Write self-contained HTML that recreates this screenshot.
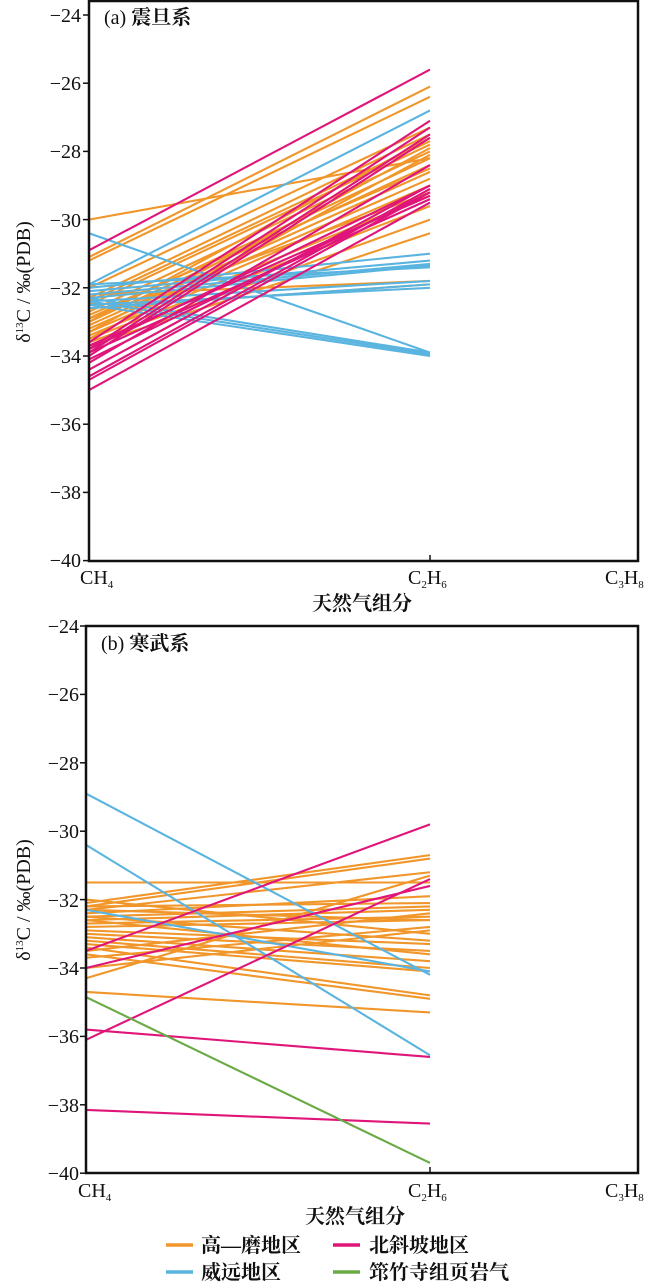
<!DOCTYPE html>
<html><head><meta charset="utf-8"><style>
html,body{margin:0;padding:0;background:#fff;}
svg{display:block;}
text{font-family:"Liberation Serif","Noto Serif CJK SC",serif;fill:#111;}
.cj{font-family:"Liberation Serif","Noto Serif CJK SC",serif;font-weight:bold;}
</style></head><body>
<svg id="s" width="650" height="1283" viewBox="0 0 650 1283" xmlns="http://www.w3.org/2000/svg">
<g id="la"></g><g id="lb"></g>
<rect x="89" y="1" width="549" height="560" fill="none" stroke="#111" stroke-width="2.5"/>
<rect x="86" y="626" width="552" height="547" fill="none" stroke="#111" stroke-width="2.5"/>
<g id="ticks"></g>
<g font-size="20" text-anchor="end">
<text x="81" y="22">−24</text><text x="81" y="90">−26</text><text x="81" y="158">−28</text><text x="81" y="227">−30</text><text x="81" y="295">−32</text><text x="81" y="363">−34</text><text x="81" y="431">−36</text><text x="81" y="499">−38</text><text x="81" y="567">−40</text>
<text x="79" y="633">−24</text><text x="79" y="701">−26</text><text x="79" y="770">−28</text><text x="79" y="838">−30</text><text x="79" y="907">−32</text><text x="79" y="975">−34</text><text x="79" y="1043">−36</text><text x="79" y="1112">−38</text><text x="79" y="1180">−40</text>
</g>
<g font-size="20">
<text x="80" y="584">CH<tspan font-size="11" dy="4">4</tspan></text>
<text x="408" y="584">C<tspan font-size="11" dy="4">2</tspan><tspan dy="-4">H</tspan><tspan font-size="11" dy="4">6</tspan></text>
<text x="605" y="584">C<tspan font-size="11" dy="4">3</tspan><tspan dy="-4">H</tspan><tspan font-size="11" dy="4">8</tspan></text>
<text x="78" y="1197">CH<tspan font-size="11" dy="4">4</tspan></text>
<text x="408" y="1197">C<tspan font-size="11" dy="4">2</tspan><tspan dy="-4">H</tspan><tspan font-size="11" dy="4">6</tspan></text>
<text x="605" y="1197">C<tspan font-size="11" dy="4">3</tspan><tspan dy="-4">H</tspan><tspan font-size="11" dy="4">8</tspan></text>
</g>
<text x="104" y="24" font-size="20">(a) <tspan class="cj">震旦系</tspan></text>
<text x="101" y="650" font-size="20">(b) <tspan class="cj">寒武系</tspan></text>
<text class="cj" x="362" y="610" font-size="20" text-anchor="middle">天然气组分</text>
<text class="cj" x="355" y="1223" font-size="20" text-anchor="middle">天然气组分</text>
<text x="0" y="0" font-size="20" text-anchor="middle" transform="translate(30,282) rotate(-90)">δ<tspan font-size="11" dy="-7">13</tspan><tspan dy="7">C / ‰(PDB)</tspan></text>
<text x="0" y="0" font-size="20" text-anchor="middle" transform="translate(30,900) rotate(-90)">δ<tspan font-size="11" dy="-7">13</tspan><tspan dy="7">C / ‰(PDB)</tspan></text>
<line x1="166" y1="1245" x2="193" y2="1245" stroke="#f0962a" stroke-width="3.5"/>
<line x1="333" y1="1245" x2="360" y2="1245" stroke="#e0157a" stroke-width="3.5"/>
<line x1="166" y1="1272" x2="193" y2="1272" stroke="#5ab4e0" stroke-width="3.5"/>
<line x1="333" y1="1272" x2="360" y2="1272" stroke="#6aaa45" stroke-width="3.5"/>
<g font-size="20">
<text x="201" y="1252" class="cj">高—磨地区</text>
<text x="369" y="1252" class="cj">北斜坡地区</text>
<text x="201" y="1279" class="cj">威远地区</text>
<text x="369" y="1279" class="cj">筇竹寺组页岩气</text>
</g>
</svg>
<script>
var NS="http://www.w3.org/2000/svg";
var O="#f0962a",P="#e0157a",B="#5ab4e0",G="#6aaa45";
function ya(v){return 15+(-24-v)*34.1;}
function yb(v){return 626+(-24-v)*34.2;}
function add(g,x1,y1,x2,y2,c,w){var l=document.createElementNS(NS,"line");l.setAttribute("x1",x1);l.setAttribute("y1",y1);l.setAttribute("x2",x2);l.setAttribute("y2",y2);l.setAttribute("stroke",c);l.setAttribute("stroke-width",w||"2.1");g.appendChild(l);}
var A=[
[O,-30.0,-28.2],[O,-31.1,-26.1],[O,-31.2,-26.4],[O,-32.0,-27.3],[O,-32.3,-27.5],[O,-32.5,-27.8],[O,-32.7,-28.0],[O,-32.9,-28.2],[O,-33.0,-28.4],[O,-33.1,-28.6],[O,-33.2,-28.8],[O,-33.3,-29.0],[O,-33.4,-29.3],[O,-33.5,-29.6],[O,-33.6,-30.0],[O,-33.7,-30.4],[O,-32.2,-31.8],[O,-32.6,-31.9],[O,-33.0,-27.6],[O,-32.8,-28.5],[O,-33.3,-27.9],[O,-33.5,-28.1],[O,-32.4,-27.7],[O,-32.9,-29.2],
[B,-30.4,-33.9],[B,-31.9,-26.8],[B,-32.0,-31.0],[B,-32.1,-31.2],[B,-32.2,-31.3],[B,-32.3,-31.35],[B,-32.4,-31.8],[B,-32.5,-32.0],[B,-32.6,-31.9],[B,-32.3,-33.9],[B,-32.4,-33.95],[B,-32.5,-34.0],[B,-31.9,-31.4],
[P,-30.9,-25.6],[P,-33.6,-27.1],[P,-33.8,-27.3],[P,-33.9,-27.5],[P,-34.0,-27.6],[P,-34.2,-28.4],[P,-34.4,-29.0],[P,-34.6,-29.1],[P,-34.7,-29.2],[P,-35.0,-29.5],[P,-33.7,-29.3],[P,-33.9,-29.4],[P,-34.1,-29.2],[P,-33.8,-29.0]
];
var Bd=[
[O,-31.5,-31.5],[O,-32.1,-30.7],[O,-32.2,-30.8],[O,-32.3,-31.2],[O,-32.4,-31.9],[O,-32.5,-32.2],[O,-32.6,-32.3],[O,-32.7,-32.5],[O,-32.8,-32.6],[O,-32.9,-33.3],[O,-33.0,-33.5],[O,-33.1,-33.8],[O,-33.2,-34.0],[O,-33.3,-34.1],[O,-33.5,-32.4],[O,-33.7,-32.8],[O,-34.0,-32.9],[O,-34.3,-31.3],[O,-34.7,-35.3],[O,-33.4,-34.8],[O,-33.6,-34.9],[O,-32.0,-33.0],[O,-32.2,-32.1],[O,-32.5,-33.2],[O,-32.3,-32.6],[O,-32.6,-33.6],
[B,-28.9,-34.2],[B,-30.4,-36.55],[B,-32.3,-34.1],
[P,-33.5,-29.8],[P,-34.0,-31.6],[P,-36.1,-31.4],[P,-35.8,-36.6],[P,-38.15,-38.55],
[G,-34.85,-39.7]
];
var ga=document.getElementById("la"),gb=document.getElementById("lb");
A.forEach(function(d){add(ga,89,ya(d[1]),430,ya(d[2]),d[0]);});
Bd.forEach(function(d){add(gb,86,yb(d[1]),430,yb(d[2]),d[0]);});
var gt=document.getElementById("ticks");
for(var i=0;i<=8;i++){add(gt,83,ya(-24-2*i),89,ya(-24-2*i),"#111","1.5");add(gt,80,yb(-24-2*i),86,yb(-24-2*i),"#111","1.5");}
add(gt,430,561,430,555,"#111","1.5");add(gt,430,1173,430,1167,"#111","1.5");
</script>
</body></html>
